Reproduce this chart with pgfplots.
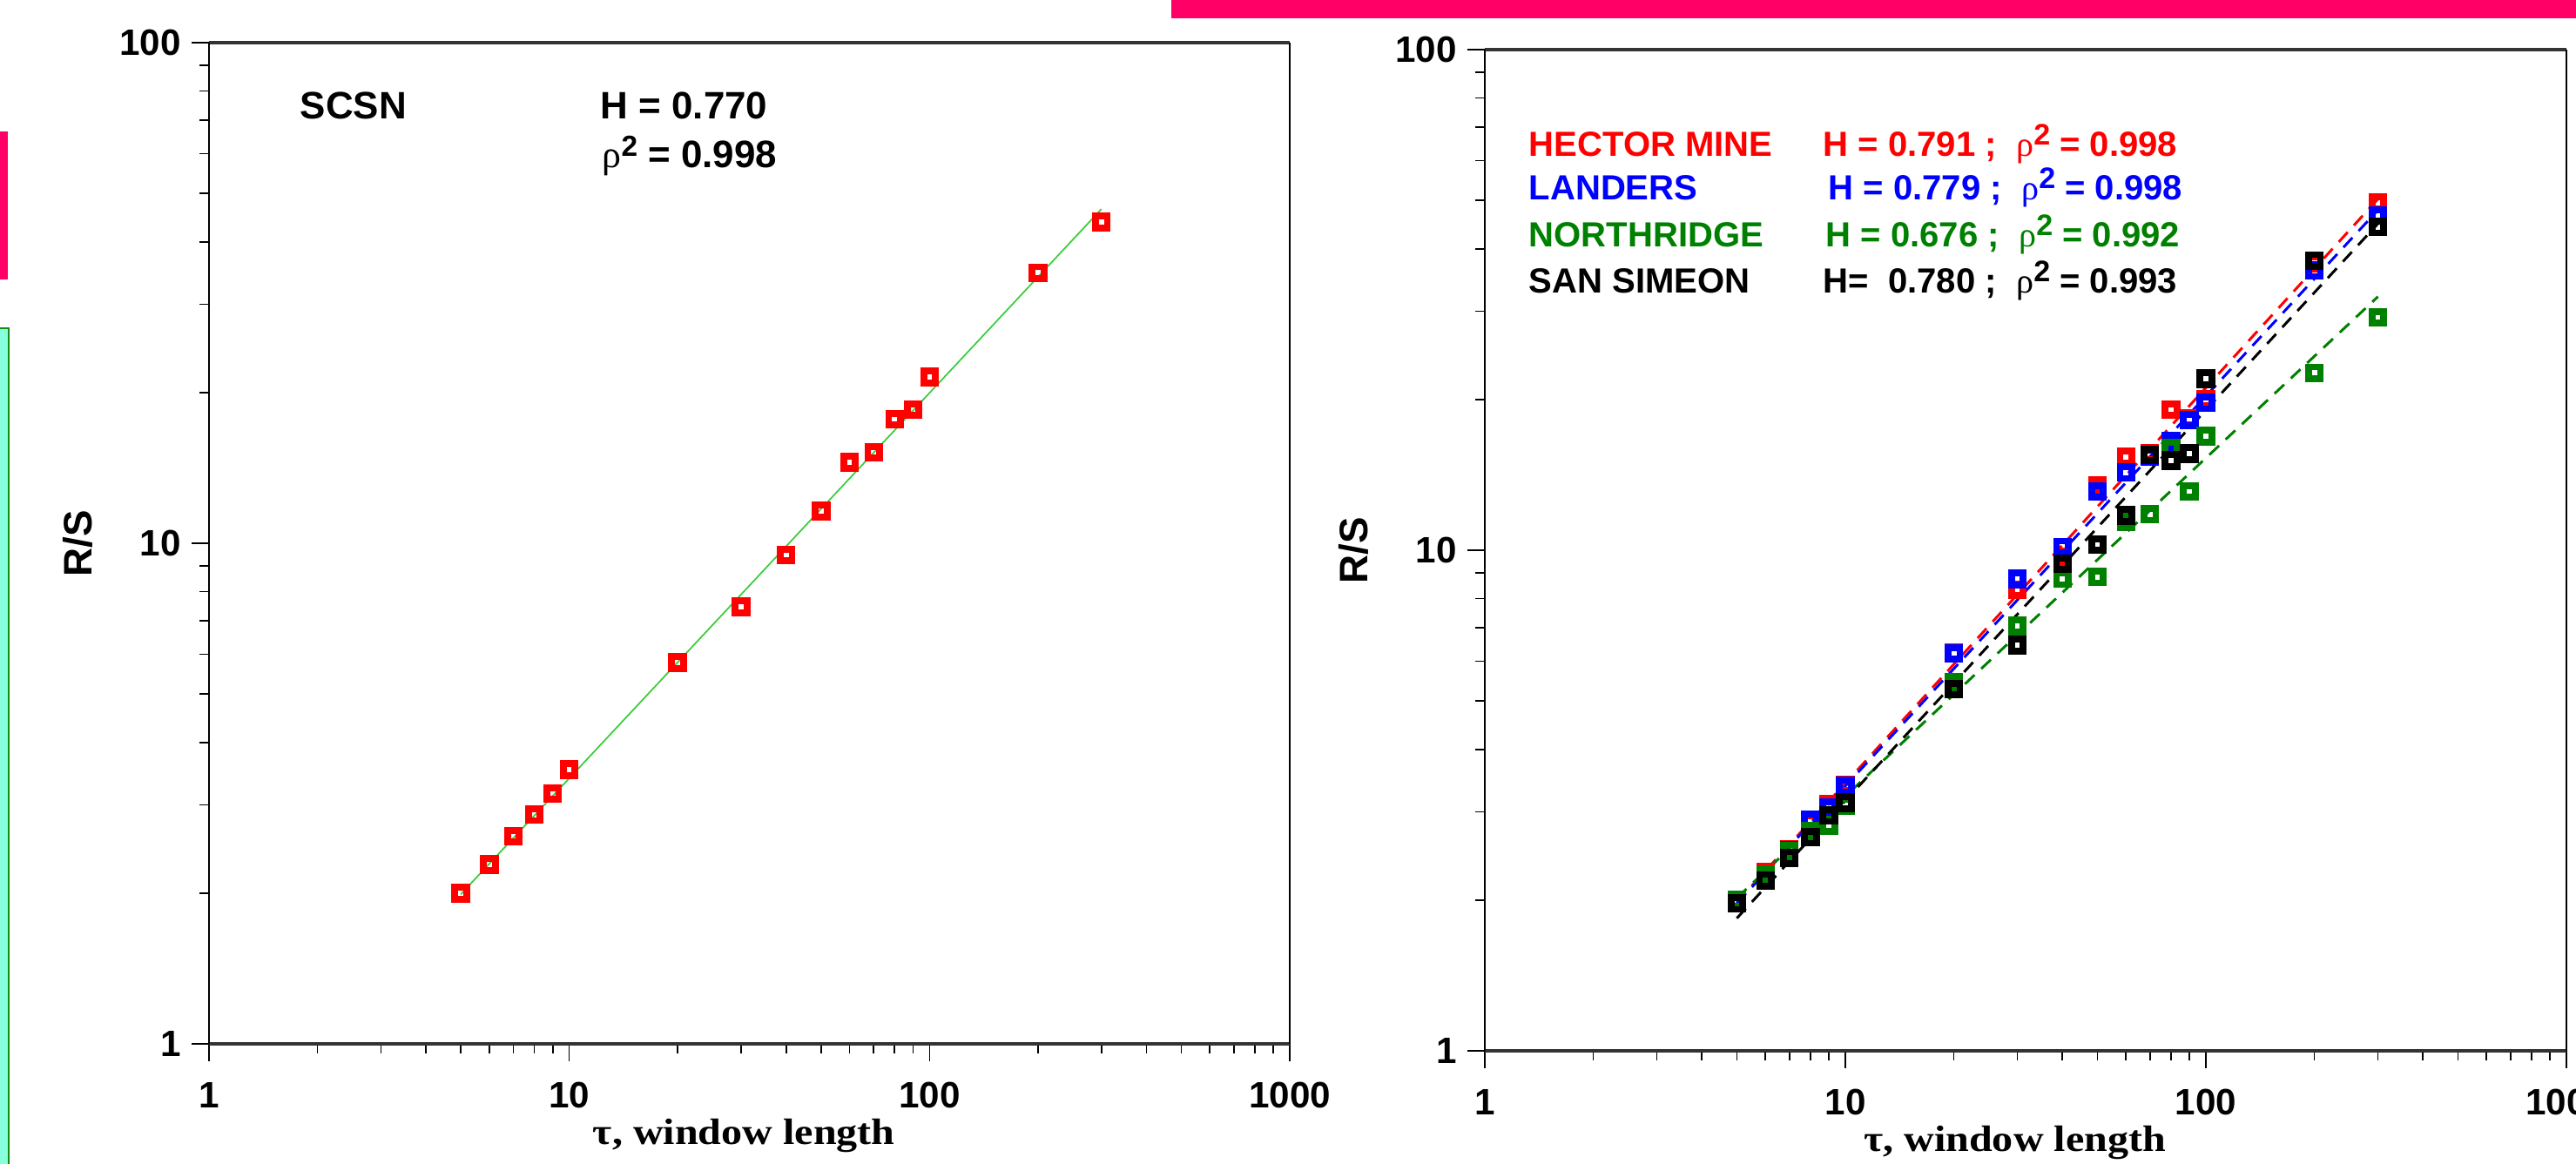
\documentclass[border=0pt]{standalone}
\usepackage{fontspec}
\setmainfont{Liberation Sans}
\newfontfamily\serif{Liberation Serif}
\usepackage{graphicx}
\usepackage{pgfplots}
\pgfplotsset{compat=1.18}

\definecolor{hred}{RGB}{255,0,0}
\definecolor{hblue}{RGB}{0,0,255}
\definecolor{hgreen}{RGB}{0,128,0}
\definecolor{fitgreen}{RGB}{60,205,60}
\definecolor{pinkbar}{RGB}{255,0,102}
\definecolor{aqua}{RGB}{136,255,221}
\definecolor{aquaedge}{RGB}{20,140,20}

\newcommand{\ticfont}{\fontsize{12}{14}\selectfont\bfseries}
\newcommand{\legfont}{\fontsize{11.4}{13}\selectfont\bfseries}
\newcommand{\annfont}{\fontsize{12.5}{14}\selectfont\bfseries}
\newcommand{\rhosym}{{\serif\mdseries ρ}}
\newcommand{\sqR}{\raisebox{0.33em}{\fontsize{9.7}{10}\selectfont\bfseries 2}}
\newcommand{\sqL}{\raisebox{0.3em}{\fontsize{9.5}{10}\selectfont\bfseries 2}}
\newcommand{\xlab}{\scalebox{1.14}[1]{\fontsize{12}{14}\selectfont\serif\bfseries τ, window length}}
\newcommand{\ylab}{\fontsize{13}{15}\selectfont\bfseries R/S}

\begin{document}
\begin{tikzpicture}
\useasboundingbox (0,0) rectangle (29.58,13.37);
% slide decorations
\fill[pinkbar] (13.45,13.16) rectangle (29.7,13.5);
\fill[pinkbar] (-0.1,11.86) rectangle (0.09,10.16);
\filldraw[fill=aqua, draw=aquaedge, line width=0.02cm] (-0.2,9.60) rectangle (0.10,-0.2);

% ---------------- left plot: SCSN
\begin{axis}[at={(2.40cm,1.38cm)}, anchor=south west, width=12.41cm,
    scale only axis, height=11.50cm,
    xmode=log, ymode=log, xmin=1, xmax=1000, ymin=1, ymax=100,
    xtick={1,10,100,1000}, xticklabels={1,10,100,1000},
    ytick={1,10,100}, yticklabels={1,10,100},
    minor xtick={2,3,4,5,6,7,8,9,20,30,40,50,60,70,80,90,200,300,400,500,600,700,800,900},
    minor ytick={2,3,4,5,6,7,8,9,20,30,40,50,60,70,80,90},
    tick align=outside, xtick pos=left, ytick pos=left,
    major tick length=0.2cm, minor tick length=0.11cm,
    separate axis lines,
    x axis line style={line width=1pt, draw=black!80},
    y axis line style={line width=0.55pt, draw=black},
    every tick/.append style={line width=0.45pt, black},
    tick label style={font=\ticfont},
    xticklabel style={yshift=-0.12cm},
    xlabel={\xlab}, ylabel={\ylab},
    every axis x label/.style={at={(axis description cs:0.495,-0.092)}, anchor=center},
    every axis y label/.style={at={(axis description cs:-0.121,0.5)}, rotate=90, anchor=center}]
\addplot[fitgreen, line width=0.5pt, no markers] coordinates {(5,1.99) (300,46.5)};
\addplot[only marks, mark=square, mark size=1.92pt, mark options={solid, line width=2.25pt}, hred] coordinates {
(5,2.0) (6,2.28) (7,2.60) (8,2.87) (9,3.16) (10,3.53) (20,5.78) (30,7.46)
(40,9.48) (50,11.6) (60,14.5) (70,15.2) (80,17.7) (90,18.5) (100,21.5)
(200,34.7) (300,43.8)};
\end{axis}

% ---------------- right plot: four earthquakes
\begin{axis}[at={(17.05cm,1.30cm)}, anchor=south west, width=12.42cm,
    scale only axis, height=11.50cm,
    xmode=log, ymode=log, xmin=1, xmax=1000, ymin=1, ymax=100,
    xtick={1,10,100,1000}, xticklabels={1,10,100,1000},
    ytick={1,10,100}, yticklabels={1,10,100},
    minor xtick={2,3,4,5,6,7,8,9,20,30,40,50,60,70,80,90,200,300,400,500,600,700,800,900},
    minor ytick={2,3,4,5,6,7,8,9,20,30,40,50,60,70,80,90},
    tick align=outside, xtick pos=left, ytick pos=left,
    major tick length=0.2cm, minor tick length=0.11cm,
    separate axis lines,
    x axis line style={line width=1pt, draw=black!80},
    y axis line style={line width=0.55pt, draw=black},
    every tick/.append style={line width=0.45pt, black},
    tick label style={font=\ticfont},
    xticklabel style={yshift=-0.12cm},
    xlabel={\xlab}, ylabel={\ylab},
    every axis x label/.style={at={(axis description cs:0.49,-0.092)}, anchor=center},
    every axis y label/.style={at={(axis description cs:-0.121,0.5)}, rotate=90, anchor=center}]
% Hector Mine
\addplot[only marks, mark=square, mark size=1.92pt, mark options={solid, line width=2.2pt}, hred] coordinates {
(5,1.98) (6,2.28) (7,2.53) (8,2.87) (9,3.11) (10,3.40) (20,6.24) (30,8.34)
(40,9.7) (50,13.45) (60,15.35) (70,15.6) (80,19.1) (90,18.3) (100,20.0)
(200,37.5) (300,49.4)};
% Landers
\addplot[only marks, mark=square, mark size=1.92pt, mark options={solid, line width=2.2pt}, hblue] coordinates {
(5,1.97) (6,2.25) (7,2.52) (8,2.89) (9,3.06) (10,3.38) (20,6.22) (30,8.76)
(40,10.15) (50,13.1) (60,14.3) (70,15.4) (80,16.5) (90,18.2) (100,19.7)
(200,36.2) (300,46.6)};
% Northridge
\addplot[only marks, mark=square, mark size=1.92pt, mark options={solid, line width=2.2pt}, hgreen] coordinates {
(5,2.0) (6,2.25) (7,2.51) (8,2.75) (9,2.82) (10,3.09) (20,5.45) (30,7.06)
(40,8.77) (50,8.84) (60,11.4) (70,11.79) (80,16.0) (90,13.1) (100,16.9)
(200,22.6) (300,29.2)};
% San Simeon
\addplot[only marks, mark=square, mark size=1.92pt, mark options={solid, line width=2.2pt}, black] coordinates {
(5,1.97) (6,2.19) (7,2.43) (8,2.67) (9,2.95) (10,3.13) (20,5.28) (30,6.46)
(40,9.40) (50,10.26) (60,11.74) (70,15.5) (80,15.1) (90,15.6) (100,22.0)
(200,37.9) (300,44.2)};
% fitted lines
\addplot[hred, no markers, line width=0.85pt, dash pattern=on 4.3pt off 3pt] coordinates {(5,1.98) (300,50.3)};
\addplot[hblue, no markers, line width=0.85pt, dash pattern=on 4.3pt off 3pt] coordinates {(5,1.97) (300,47.8)};
\addplot[hgreen, no markers, line width=0.85pt, dash pattern=on 4.3pt off 3pt] coordinates {(5,2.02) (300,32.1)};
\addplot[black, no markers, line width=0.85pt, dash pattern=on 4.3pt off 3pt] coordinates {(5,1.84) (300,44.9)};
\end{axis}

% annotations, left
\node[anchor=base west, inner sep=0, font=\annfont] at (3.44,12.00) {SCSN};
\node[anchor=base west, inner sep=0, font=\annfont] at (6.89,12.00) {H = 0.770};
\node[anchor=base west, inner sep=0, font=\annfont] at (6.91,11.44) {\rhosym\sqL\ = 0.998};

% annotations, right
\node[anchor=base west, inner sep=0, font=\legfont, text=hred] at (17.55,11.57) {HECTOR MINE};
\node[anchor=base west, inner sep=0, font=\legfont, text=hred] at (20.93,11.57) {H = 0.791 ;\ \ \rhosym\sqR\ = 0.998};
\node[anchor=base west, inner sep=0, font=\legfont, text=hblue] at (17.55,11.07) {LANDERS};
\node[anchor=base west, inner sep=0, font=\legfont, text=hblue] at (20.99,11.07) {H = 0.779 ;\ \ \rhosym\sqR\ = 0.998};
\node[anchor=base west, inner sep=0, font=\legfont, text=hgreen] at (17.55,10.53) {NORTHRIDGE};
\node[anchor=base west, inner sep=0, font=\legfont, text=hgreen] at (20.96,10.53) {H = 0.676 ;\ \ \rhosym\sqR\ = 0.992};
\node[anchor=base west, inner sep=0, font=\legfont] at (17.55,10.00) {SAN SIMEON};
\node[anchor=base west, inner sep=0, font=\legfont] at (20.93,10.00) {H=\ \ 0.780 ;\ \ \rhosym\sqR\ = 0.993};
\end{tikzpicture}
\end{document}
